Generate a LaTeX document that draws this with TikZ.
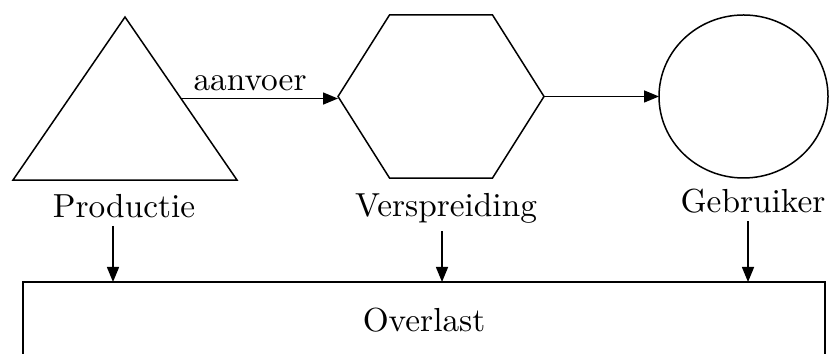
\documentclass[tikz,border=0pt]{standalone}
\usetikzlibrary{shapes.geometric,arrows.meta}
\begin{document}
\begin{tikzpicture}[x=0.3pt,y=-0.3pt,line width=0.45pt,
    >={Triangle[length=4.5pt,width=3.6pt]},
    vorm/.style={draw,inner sep=0pt,outer sep=0pt},
    naam/.style={anchor=base,inner sep=2pt,font=\fontsize{10}{12}\selectfont}]
    \useasboundingbox (0,0) rectangle (829,354);
    \clip (0,0) rectangle (829,354);
    % the three shapes
    \node[vorm,regular polygon,regular polygon sides=3,minimum size=65.2pt,xscale=1.19] (tri) at (125,125.7) {};
    \node[vorm,regular polygon,regular polygon sides=6,minimum size=61.8pt,yscale=0.914] (hex) at (441,96.5) {};
    \node[vorm,ellipse,minimum width=50.7pt,minimum height=48.9pt] (user) at (743.5,96.5) {};
    \node[naam] (prod) at (124,218) {Productie};
    \node[naam] (versp) at (446,217) {Verspreiding};
    \node[naam] (gebr) at (753,213) {Gebruiker};
    \node[vorm,minimum width=240.6pt,minimum height=23.1pt,font=\fontsize{10}{12}\selectfont] (box) at (424,320.5) {Overlast};
    % connectors
    \draw[->] (tri.side 3) -- (tri.side 3 -| hex.west) node[pos=0.44,above,inner sep=2pt,font=\fontsize{10}{12}\selectfont] (aanv) {aanvoer};
    \draw[->] (hex.east) -- (user.west);
    \draw[->] ([xshift=-3.3pt]prod.south) -- ([xshift=-3.3pt]prod.south |- box.north);
    \draw[->] ([xshift=-1.2pt]versp.south) -- ([xshift=-1.2pt]versp.south |- box.north);
    \draw[->] ([xshift=-1.5pt]gebr.south) -- ([xshift=-1.5pt]gebr.south |- box.north);
\end{tikzpicture}
\end{document}
